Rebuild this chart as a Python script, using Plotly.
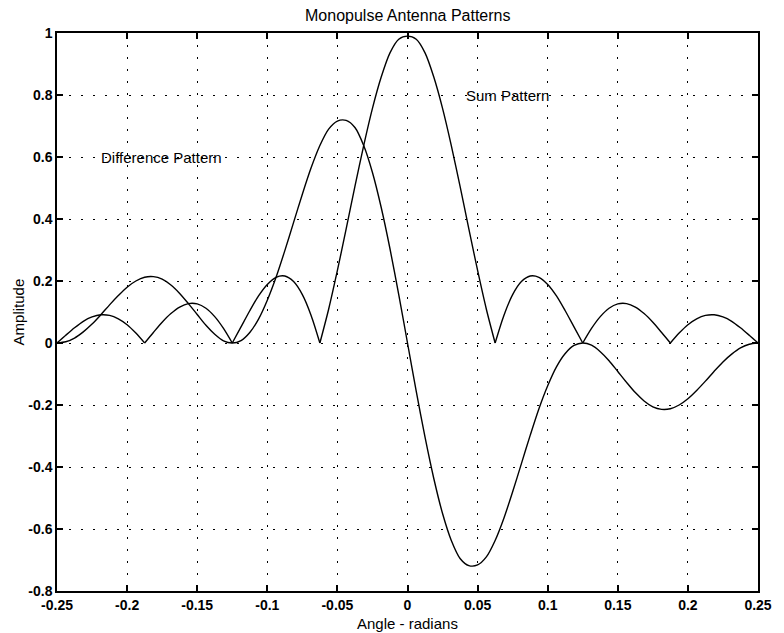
import plotly.graph_objects as go

# Angle samples (radians)
angle = [
    -0.25000, -0.24375, -0.23750, -0.23125, -0.22500, -0.21875, -0.21250, -0.20625, -0.20000, -0.19375,
    -0.18750, -0.18125, -0.17500, -0.16875, -0.16250, -0.15625, -0.15000, -0.14375, -0.13750, -0.13125,
    -0.12500, -0.11875, -0.11250, -0.10625, -0.10000, -0.09375, -0.08750, -0.08125, -0.07500, -0.06875,
    -0.06250, -0.05625, -0.05000, -0.04375, -0.03750, -0.03125, -0.02500, -0.01875, -0.01250, -0.00625,
    0.00000,
    0.00625, 0.01250, 0.01875, 0.02500, 0.03125, 0.03750, 0.04375, 0.05000, 0.05625, 0.06250,
    0.06875, 0.07500, 0.08125, 0.08750, 0.09375, 0.10000, 0.10625, 0.11250, 0.11875, 0.12500,
    0.13125, 0.13750, 0.14375, 0.15000, 0.15625, 0.16250, 0.16875, 0.17500, 0.18125, 0.18750,
    0.19375, 0.20000, 0.20625, 0.21250, 0.21875, 0.22500, 0.23125, 0.23750, 0.24375, 0.25000,
]

# Sum pattern amplitude
sum_pattern = [
    0.000, 0.025, 0.049, 0.070, 0.084, 0.091, 0.089, 0.078, 0.059, 0.032,
    0.000, 0.034, 0.067, 0.095, 0.116, 0.127, 0.126, 0.112, 0.085, 0.047,
    0.000, 0.052, 0.104, 0.152, 0.189, 0.212, 0.216, 0.198, 0.156, 0.089,
    0.000, 0.109, 0.234, 0.368, 0.505, 0.637, 0.757, 0.858, 0.936, 0.980,
    0.990,
    0.980, 0.936, 0.858, 0.757, 0.637, 0.505, 0.368, 0.234, 0.109, 0.000,
    0.089, 0.156, 0.198, 0.216, 0.212, 0.189, 0.152, 0.104, 0.052, 0.000,
    0.047, 0.085, 0.112, 0.126, 0.127, 0.116, 0.095, 0.067, 0.034, 0.000,
    0.032, 0.059, 0.078, 0.089, 0.091, 0.084, 0.070, 0.049, 0.025, 0.000,
]

# Difference pattern amplitude
difference_pattern = [
    0.000, 0.004, 0.016, 0.036, 0.061, 0.091, 0.123, 0.153, 0.180, 0.200,
    0.212, 0.214, 0.206, 0.187, 0.160, 0.127, 0.092, 0.057, 0.028, 0.007,
    0.000, 0.008, 0.034, 0.077, 0.138, 0.212, 0.298, 0.389, 0.480, 0.565,
    0.637, 0.690, 0.716, 0.718, 0.695, 0.637, 0.550, 0.437, 0.304, 0.156,
    0.000,
    -0.156, -0.304, -0.437, -0.550, -0.637, -0.695, -0.718, -0.716, -0.690, -0.637,
    -0.565, -0.480, -0.389, -0.298, -0.212, -0.138, -0.077, -0.034, -0.008, 0.000,
    -0.007, -0.028, -0.057, -0.092, -0.127, -0.160, -0.187, -0.206, -0.214, -0.212,
    -0.200, -0.180, -0.153, -0.123, -0.091, -0.061, -0.036, -0.016, -0.004, 0.000,
]

x_ticks = [-0.25, -0.2, -0.15, -0.1, -0.05, 0, 0.05, 0.1, 0.15, 0.2, 0.25]
x_labels = ["-0.25", "-0.2", "-0.15", "-0.1", "-0.05", "0", "0.05", "0.1", "0.15", "0.2", "0.25"]
y_ticks = [-0.8, -0.6, -0.4, -0.2, 0, 0.2, 0.4, 0.6, 0.8, 1]
y_labels = ["-0.8", "-0.6", "-0.4", "-0.2", "0", "0.2", "0.4", "0.6", "0.8", "1"]

FONT = "Liberation Sans, Arial, Helvetica, sans-serif"
LINE = dict(color="black", width=1.4, shape="spline", smoothing=0.8)

fig = go.Figure()

# The magnitude of the sum pattern has sharp nulls: draw each lobe as its own
# smooth piece so the V-shaped nulls stay crisp.
nulls = [i for i in range(1, len(sum_pattern) - 1) if sum_pattern[i] == 0]
bounds = [0] + nulls + [len(sum_pattern) - 1]
for a, b in zip(bounds[:-1], bounds[1:]):
    fig.add_trace(go.Scatter(x=angle[a:b + 1], y=sum_pattern[a:b + 1], mode="lines",
                             line=LINE, hoverinfo="x+y", name="Sum Pattern"))

fig.add_trace(go.Scatter(x=angle, y=difference_pattern, mode="lines",
                         line=LINE, name="Difference Pattern"))

axis_style = dict(
    showline=True, linecolor="black", linewidth=1.5, mirror="ticks",
    ticks="inside", ticklen=6, tickwidth=1.5, tickcolor="black",
    showgrid=True, gridcolor="black", gridwidth=1, griddash="2px,10px",
    zeroline=False,
    tickfont=dict(family=FONT, size=14, color="black", weight="bold"),
)

fig.update_xaxes(range=[-0.25, 0.25], tickvals=x_ticks, ticktext=x_labels, **axis_style)
fig.update_yaxes(range=[-0.8, 1], tickvals=y_ticks, ticktext=y_labels, **axis_style)

fig.add_annotation(text="Monopulse Antenna Patterns", xref="paper", yref="paper",
                   x=0.5, y=1 + 18 / 558, xanchor="center", yanchor="middle",
                   showarrow=False, font=dict(family=FONT, size=16, color="black"))
fig.add_annotation(text="Angle - radians", xref="paper", yref="paper",
                   x=0.5, y=-32 / 558, xanchor="center", yanchor="middle",
                   showarrow=False, font=dict(family=FONT, size=15, color="black"))
fig.add_annotation(text="Amplitude", xref="paper", yref="paper",
                   x=-39 / 709, y=0.5, xanchor="center", yanchor="middle", textangle=-90,
                   showarrow=False, font=dict(family=FONT, size=15, color="black"))

fig.add_annotation(text="Sum Pattern", x=0.04, y=0.8, xanchor="left", yanchor="middle",
                   showarrow=False, font=dict(family=FONT, size=15, color="black"))
fig.add_annotation(text="Difference Pattern", x=-0.22, y=0.6, xanchor="left", yanchor="middle",
                   showarrow=False, font=dict(family=FONT, size=15, color="black"))

fig.update_layout(
    width=784, height=633,
    margin=dict(l=57, r=18, t=33, b=42),
    paper_bgcolor="white", plot_bgcolor="white",
    showlegend=False,
)

fig.write_html("out.html")
